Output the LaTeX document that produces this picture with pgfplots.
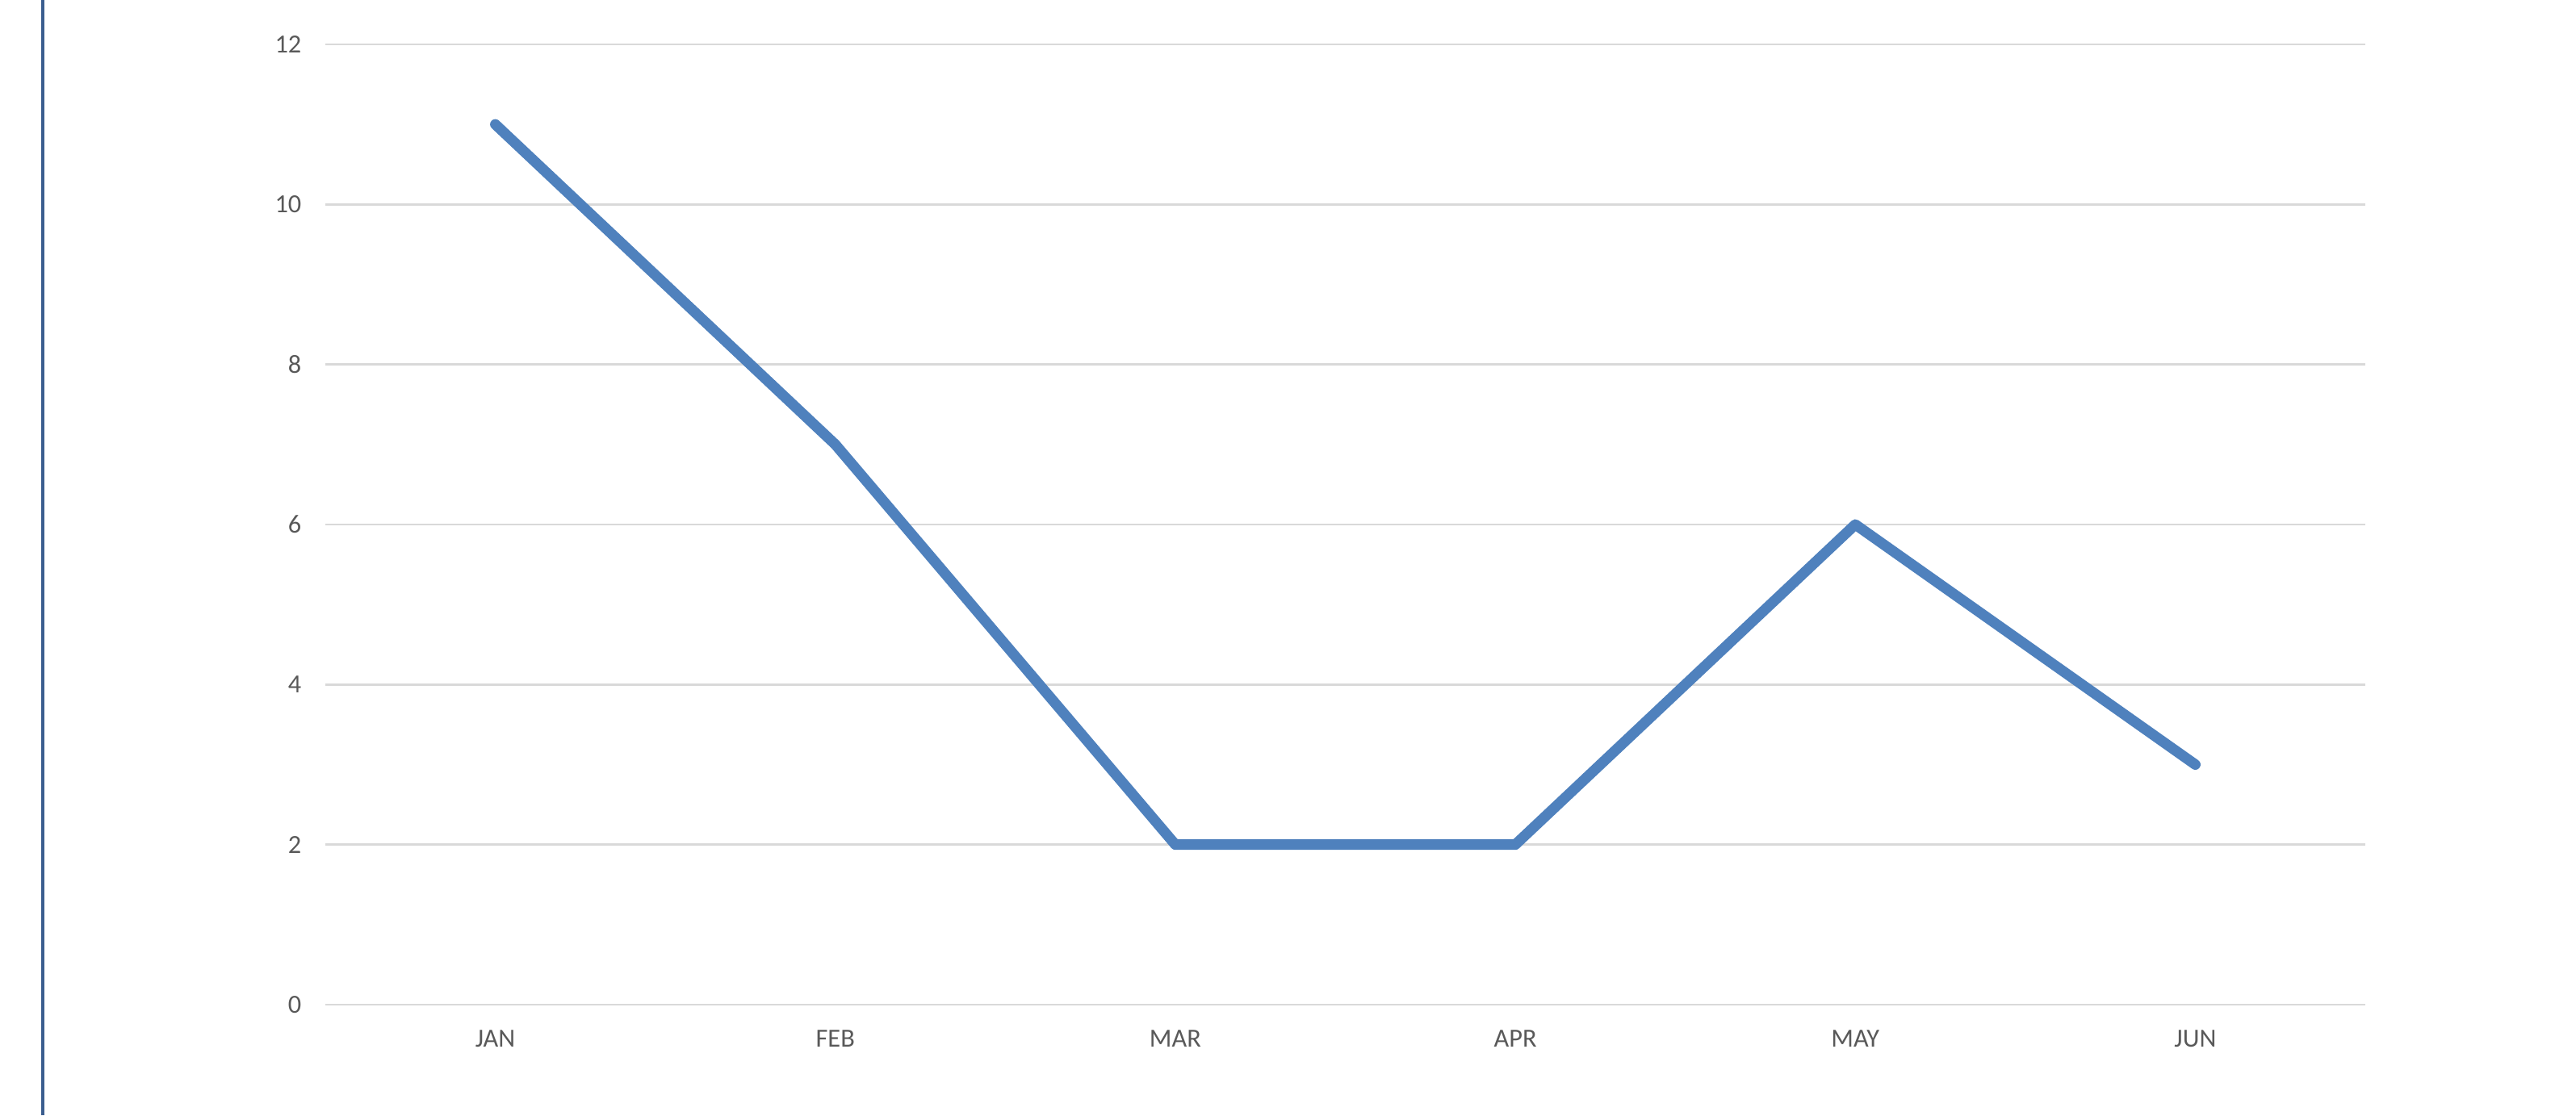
\documentclass[border=0pt]{standalone}
\usepackage{pgfplots}
\pgfplotsset{compat=1.18}
\usepackage{fontspec}
\setmainfont{Carlito}
\definecolor{linecol}{HTML}{4F81BD}
\definecolor{gridcol}{HTML}{D9D9D9}
\definecolor{txtcol}{HTML}{595959}
\definecolor{bordercol}{HTML}{3B5E8F}
\begin{document}
\begin{tikzpicture}
\useasboundingbox (0,0) rectangle (957.3pt,414.6pt);
\draw[bordercol, line width=1.2pt] (15.9pt,0) -- (15.9pt,414.6pt);
\begin{axis}[
  at={(120.9pt,41.1pt)}, anchor=south west,
  scale only axis, width=758.1pt, height=357pt,
  xmin=-0.5, xmax=5.5, ymin=0, ymax=12,
  xtick={0,1,2,3,4,5},
  xticklabels={JAN,FEB,MAR,APR,MAY,JUN},
  ytick={0,2,4,6,8,10,12},
  axis line style={draw=none},
  major tick length=0pt,
  ymajorgrids, grid style={gridcol, line width=0.8pt},
  tick label style={font=\fontsize{9.7}{11}\selectfont, text=txtcol},
  /pgf/number format/assume math mode=true,
  yticklabel style={anchor=east, inner sep=0pt, xshift=-8.7pt},
  xticklabel style={anchor=north, inner sep=0pt, yshift=-9.3pt},
  clip=false,
]
\addplot[linecol, line width=3.9pt, line join=round, line cap=round]
  coordinates {(0,11) (1,7) (2,2) (3,2) (4,6) (5,3)};
\end{axis}
\end{tikzpicture}
\end{document}
